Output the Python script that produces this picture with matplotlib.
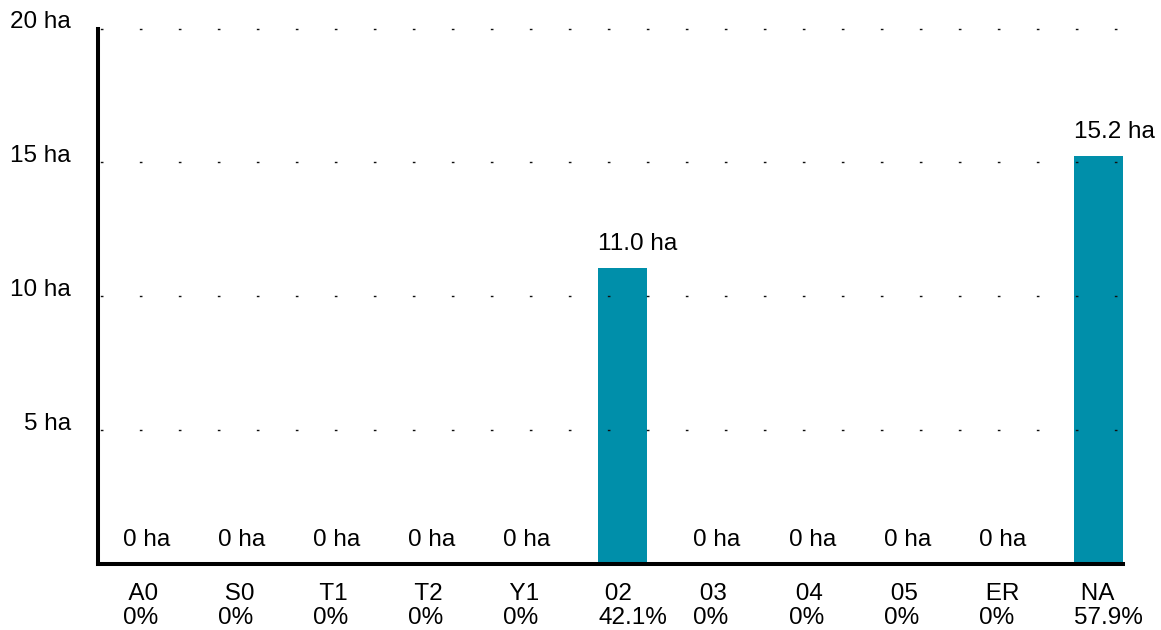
import matplotlib
matplotlib.use("Agg")
import matplotlib.pyplot as plt

categories = ["A0", "S0", "T1", "T2", "Y1", "02", "03", "04", "05", "ER", "NA"]
values = [0, 0, 0, 0, 0, 11.07, 0, 0, 0, 0, 15.22]
value_labels = ["0 ha", "0 ha", "0 ha", "0 ha", "0 ha", "11.0 ha", "0 ha", "0 ha", "0 ha", "0 ha", "15.2 ha"]
pct_labels = ["0%", "0%", "0%", "0%", "0%", "42.1%", "0%", "0%", "0%", "0%", "57.9%"]
y_ticks = [5, 10, 15, 20]
y_tick_labels = ["5 ha", "10 ha", "15 ha", "20 ha"]

plt.rcParams['font.family'] = ['Liberation Sans', 'DejaVu Sans']
FS = 17.5

W, H = 1161, 630
fig = plt.figure(figsize=(W / 100, H / 100), dpi=100)
ax = fig.add_axes([98 / W, (H - 564) / H, (1123 - 98) / W, (564 - 28.5) / H])

BW = 0.515
x = list(range(len(categories)))
bar_color = "#008FAA"
ax.bar(x, values, width=BW, color=bar_color, zorder=2)

XL = (-BW, len(categories) - 1 + BW / 2)
ax.set_xlim(*XL)
ax.set_ylim(0, 20)

# dotted grid
for yv in y_ticks:
    ax.plot(XL, [yv, yv], color="#111111", lw=1.0,
            linestyle=(26.4, (1.9, 26.18)), zorder=3, clip_on=False,
            dash_capstyle='butt')

# spines
for s in ["top", "right"]:
    ax.spines[s].set_visible(False)
for s in ["left", "bottom"]:
    ax.spines[s].set_linewidth(2.9)
    ax.spines[s].set_color("black")
    ax.spines[s].set_zorder(4)

# y tick labels
ax.set_yticks(y_ticks)
ax.set_yticklabels([])
ax.tick_params(axis='y', length=0)
for yv, lab in zip(y_ticks, y_tick_labels):
    ax.annotate(lab, xy=(0, yv), xycoords=ax.get_yaxis_transform(),
                xytext=(-19.5, 0), textcoords='offset points',
                ha='right', va='baseline', fontsize=FS)

# x labels (left-aligned at bar left edge)
ax.set_xticks(x)
ax.set_xticklabels([])
ax.tick_params(axis='x', length=0)
for xi, c, p in zip(x, categories, pct_labels):
    ax.annotate(f" {c}\n{p}", xy=(xi - BW / 2, 0), xytext=(0, -14),
                textcoords='offset points', ha='left', va='top',
                multialignment='left', fontsize=FS, linespacing=1.1,
                annotation_clip=False)

# value labels (left-aligned at bar left edge)
for xi, v, lab in zip(x, values, value_labels):
    ax.annotate(lab, xy=(xi - BW / 2, v), xytext=(0, 13), textcoords='offset points',
                ha='left', va='baseline', fontsize=FS)

fig.savefig("out.png", dpi=100)
